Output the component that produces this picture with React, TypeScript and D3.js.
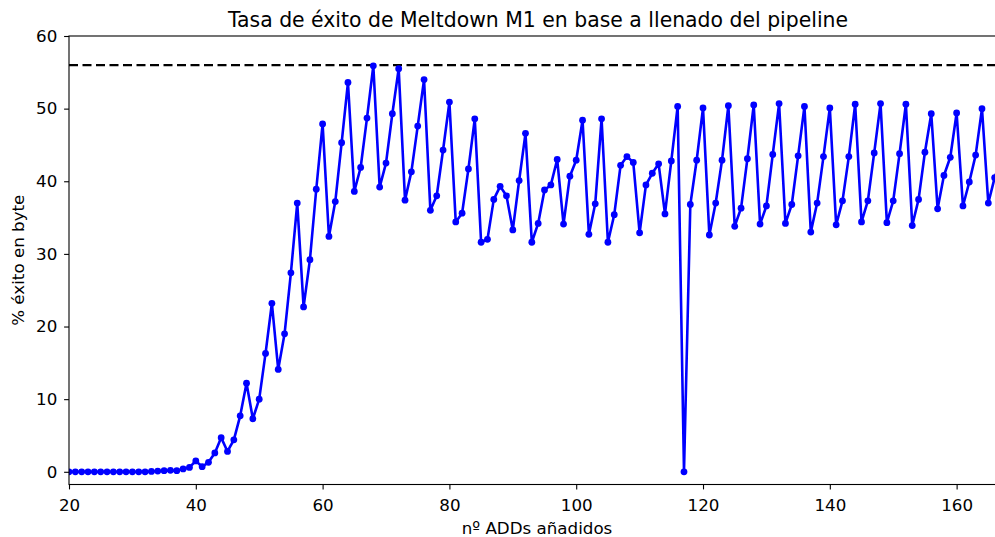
import React, { useEffect, useRef } from 'react'
import * as d3 from 'd3'

// nº ADDs añadidos (x) y % éxito en byte (y)
const addsStart = 20
const successRate = [
    0, 0, 0, 0, 0, 0, 0, 0, 0, 0, 0, 0, 0, 0.05,
    0.1, 0.15, 0.2, 0.15, 0.4, 0.6, 1.5, 0.7, 1.3, 2.6,
    4.7, 2.8, 4.4, 7.7, 12.2, 7.3, 10.0, 16.3, 23.2, 14.1,
    19.0, 27.4, 37.0, 22.7, 29.2, 38.9, 47.9, 32.4, 37.2, 45.3,
    53.6, 38.6, 41.9, 48.7, 55.9, 39.2, 42.5, 49.3, 55.5, 37.4,
    41.3, 47.6, 54.0, 36.0, 38.0, 44.3, 50.9, 34.4, 35.6, 41.7,
    48.6, 31.6, 32.0, 37.5, 39.3, 38.0, 33.3, 40.1, 46.6, 31.6,
    34.2, 38.8, 39.5, 43.0, 34.1, 40.7, 42.9, 48.4, 32.7, 36.9,
    48.6, 31.6, 35.4, 42.2, 43.4, 42.6, 32.9, 39.5, 41.1, 42.4,
    35.5, 42.8, 50.3, 0, 36.8, 42.9, 50.1, 32.6, 37.0, 42.9,
    50.4, 33.8, 36.3, 43.1, 50.5, 34.1, 36.6, 43.7, 50.7, 34.2,
    36.8, 43.5, 50.3, 33.0, 37.0, 43.4, 50.1, 34.0, 37.3, 43.4,
    50.6, 34.4, 37.3, 43.9, 50.7, 34.3, 37.3, 43.8, 50.6, 33.9,
    37.5, 44.0, 49.3, 36.2, 40.8, 43.3, 49.4, 36.6, 39.9, 43.6,
    50.0, 37.0, 40.5, 43.0
]
const points = successRate.map((v, i) => ({ x: addsStart + i, y: v }))

const referenceLevel = [56]
const xTicks = [20, 40, 60, 80, 100, 120, 140, 160]
const yTicks = [0, 10, 20, 30, 40, 50, 60]

const title = 'Tasa de éxito de Meltdown M1 en base a llenado del pipeline'
const xLabel = 'nº ADDs añadidos'
const yLabel = '% éxito en byte'

const width = 995
const height = 537
const margin = { left: 69, top: 36, right: 1001, bottom: 484.5 }
const font = 'DejaVu Sans, sans-serif'

function drawChart(node: SVGSVGElement) {
    const svg = d3.select(node)
    svg.selectAll('*').remove()

    const x = d3.scaleLinear().domain([20, 167]).range([margin.left, margin.right])
    const y = d3.scaleLinear().domain([-1.75, 60]).range([margin.bottom, margin.top])

    svg.append('rect').attr('width', width).attr('height', height).attr('fill', 'white')

    svg.append('clipPath').attr('id', 'plot-clip')
        .append('rect')
        .attr('x', margin.left)
        .attr('y', margin.top)
        .attr('width', margin.right - margin.left)
        .attr('height', margin.bottom - margin.top)

    const plot = svg.append('g').attr('clip-path', 'url(#plot-clip)')

    // linea de referencia
    plot.selectAll('.ref')
        .data(referenceLevel)
        .enter()
        .append('line')
        .attr('x1', margin.left)
        .attr('x2', margin.right)
        .attr('y1', d => y(d))
        .attr('y2', d => y(d))
        .attr('stroke', 'black')
        .attr('stroke-width', 2.2)
        .attr('stroke-dasharray', '9,4.5')

    const line = d3.line<{ x: number, y: number }>()
        .x(d => x(d.x))
        .y(d => y(d.y))

    plot.append('path')
        .datum(points)
        .attr('d', line)
        .attr('fill', 'none')
        .attr('stroke', '#0000ff')
        .attr('stroke-width', 2.6)
        .attr('stroke-linejoin', 'round')

    plot.selectAll('.dot')
        .data(points)
        .enter()
        .append('circle')
        .attr('cx', d => x(d.x))
        .attr('cy', d => y(d.y))
        .attr('r', 3.4)
        .attr('fill', '#0000ff')

    // ejes
    const xAxis = svg.append('g')
        .attr('transform', `translate(0,${margin.bottom})`)
        .call(d3.axisBottom(x).tickValues(xTicks).tickSizeOuter(0).tickSize(4.9).tickPadding(9.6))
    const yAxis = svg.append('g')
        .attr('transform', `translate(${margin.left},0)`)
        .call(d3.axisLeft(y).tickValues(yTicks).tickSizeOuter(0).tickSize(4.9).tickPadding(6.8))

    for (const axis of [xAxis, yAxis]) {
        axis.select('.domain').remove()
        axis.selectAll('line').attr('stroke', 'black').attr('stroke-width', 1.1)
        axis.selectAll('text')
            .attr('fill', 'black')
            .style('font-family', font)
            .style('font-size', '16.7px')
    }

    // marco
    svg.append('rect')
        .attr('x', margin.left)
        .attr('y', margin.top)
        .attr('width', margin.right - margin.left)
        .attr('height', margin.bottom - margin.top)
        .attr('fill', 'none')
        .attr('stroke', 'black')
        .attr('stroke-width', 1.1)

    svg.append('text')
        .attr('x', (margin.left + margin.right) / 2 + 3)
        .attr('y', 26.5)
        .attr('text-anchor', 'middle')
        .style('font-family', font)
        .style('font-size', '20.4px')
        .text(title)

    svg.append('text')
        .attr('x', (margin.left + margin.right) / 2 + 2)
        .attr('y', 534)
        .attr('text-anchor', 'middle')
        .style('font-family', font)
        .style('font-size', '16.7px')
        .text(xLabel)

    svg.append('text')
        .attr('transform', `translate(24,${(margin.top + margin.bottom) / 2}) rotate(-90)`)
        .attr('text-anchor', 'middle')
        .style('font-family', font)
        .style('font-size', '16.7px')
        .text(yLabel)
}

export default function App() {
    const ref = useRef<SVGSVGElement>(null)

    useEffect(() => {
        if (ref.current) drawChart(ref.current)
    }, [])

    return (
        <svg
            ref={ref}
            width={width}
            height={height}
            style={{ position: 'absolute', left: 0, top: 0, display: 'block' }}
        />
    )
}
